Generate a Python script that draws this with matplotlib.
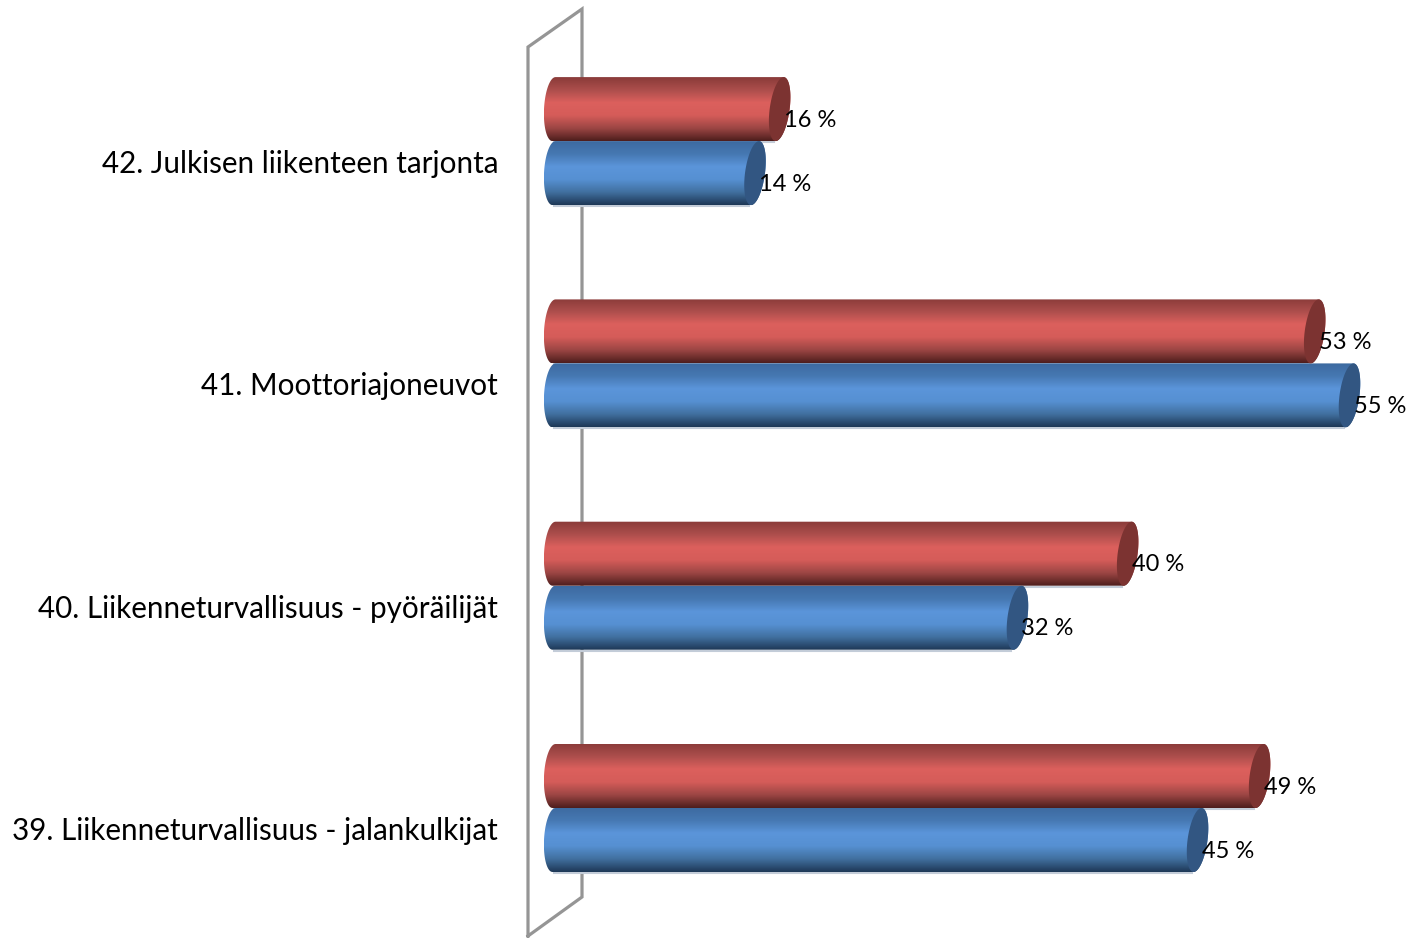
import matplotlib
matplotlib.use("Agg")
import matplotlib.pyplot as plt
import numpy as np
from matplotlib.colors import LinearSegmentedColormap
from matplotlib.patches import PathPatch, Polygon
from matplotlib.path import Path

# bottom to top, same order as the chart's category axis
categories = [
    "39. Liikenneturvallisuus - jalankulkijat",
    "40. Liikenneturvallisuus - pyöräilijät",
    "41. Moottoriajoneuvot",
    "42. Julkisen liikenteen tarjonta",
]
red_values = [48.8, 39.7, 52.6, 15.7]
blue_values = [44.52, 32.1, 55.0, 14.0]

PX_PER_PCT = 14.5
PX_PER_CAT = 222.3
W, H = 1412, 938
X0_PX = 552
Y0_PX = 808

RED_STOPS = ["#8a3b39", "#ac4e4c", "#dc605d", "#d55c59", "#9c4644", "#4e1e1d"]
BLUE_STOPS = ["#3d6aa0", "#4678b2", "#5b95da", "#5690d2", "#41709f", "#1e3857"]
RED_CAP = "#7c3331"
BLUE_CAP = "#325682"

plt.rcParams["font.family"] = ["Lato", "DejaVu Sans"]


def px_w(px):
    return px / PX_PER_PCT


def px_h(px):
    return px / PX_PER_CAT


def cap_outline(cx, cy, half_w, half_h, t, slant=4):
    # slightly slanted ellipse, the 3D look of the office chart
    x = cx + px_w(half_w) * np.cos(t) + px_w(slant) * np.sin(t)
    y = cy + px_h(half_h) * np.sin(t)
    return x, y


def draw_cylinder(ax, value, cy, stops, cap_color):
    half_h = 32
    half_w = 10
    cmap = LinearSegmentedColormap.from_list("shade", stops)

    t_left = np.linspace(np.pi / 2, 3 * np.pi / 2, 40)
    t_right = np.linspace(-np.pi / 2, np.pi / 2, 40)
    lx, ly = cap_outline(px_w(2), cy, half_w, half_h, t_left, slant=1.5)
    rx, ry = cap_outline(value, cy, half_w, half_h, t_right)
    xs = np.concatenate([lx, rx])
    ys = np.concatenate([ly, ry])
    outline = Path(np.column_stack([xs, ys]))

    # faint shadow under the bar
    ax.plot([px_w(2), value - px_w(6)], [cy - px_h(half_h + 1)] * 2, color="#c3ccd8", lw=1.5, zorder=3)

    grad = np.linspace(0, 1, 200).reshape(-1, 1)
    im = ax.imshow(grad, cmap=cmap, aspect="auto", interpolation="bilinear", zorder=4,
                   extent=(xs.min(), xs.max(), cy - px_h(half_h), cy + px_h(half_h)))
    clip = PathPatch(outline, transform=ax.transData, fc="none", ec="none")
    ax.add_patch(clip)
    im.set_clip_path(clip)

    t_cap = np.linspace(0, 2 * np.pi, 80)
    cx, cy2 = cap_outline(value, cy, half_w, half_h, t_cap)
    ax.add_patch(Polygon(np.column_stack([cx, cy2]), fc=cap_color, ec="none", zorder=5))

    ax.text(value + px_w(4), cy - px_h(11), f"{value:.0f} %", fontsize=17, color="black",
            ha="left", va="center", zorder=6)


fig = plt.figure(figsize=(W / 100, H / 100), dpi=100)
ax = fig.add_axes([0, 0, 1, 1])

# 3D back wall of the chart, behind the bars
wall_x = [px_w(528 - X0_PX), px_w(528 - X0_PX), px_w(582 - X0_PX), px_w(582 - X0_PX), px_w(528 - X0_PX)]
wall_y = [px_h(Y0_PX - 936), px_h(Y0_PX - 47), px_h(Y0_PX - 9), px_h(Y0_PX - 897), px_h(Y0_PX - 936)]
ax.plot(wall_x, wall_y, color="#959595", lw=2.3, zorder=1, solid_joinstyle="miter")

bar_h = px_h(64)
for i, cat in enumerate(categories):
    draw_cylinder(ax, blue_values[i], i - bar_h / 2, BLUE_STOPS, BLUE_CAP)
    draw_cylinder(ax, red_values[i], i + bar_h / 2, RED_STOPS, RED_CAP)
    ax.text(px_w(498 - X0_PX), i - px_h(23), cat, fontsize=21.3, color="black",
            ha="right", va="center")

ax.set_xlim(-X0_PX / PX_PER_PCT, (W - X0_PX) / PX_PER_PCT)
ax.set_ylim((Y0_PX - H) / PX_PER_CAT, Y0_PX / PX_PER_CAT)
ax.axis("off")

fig.savefig("out.png", dpi=100, facecolor="white")
